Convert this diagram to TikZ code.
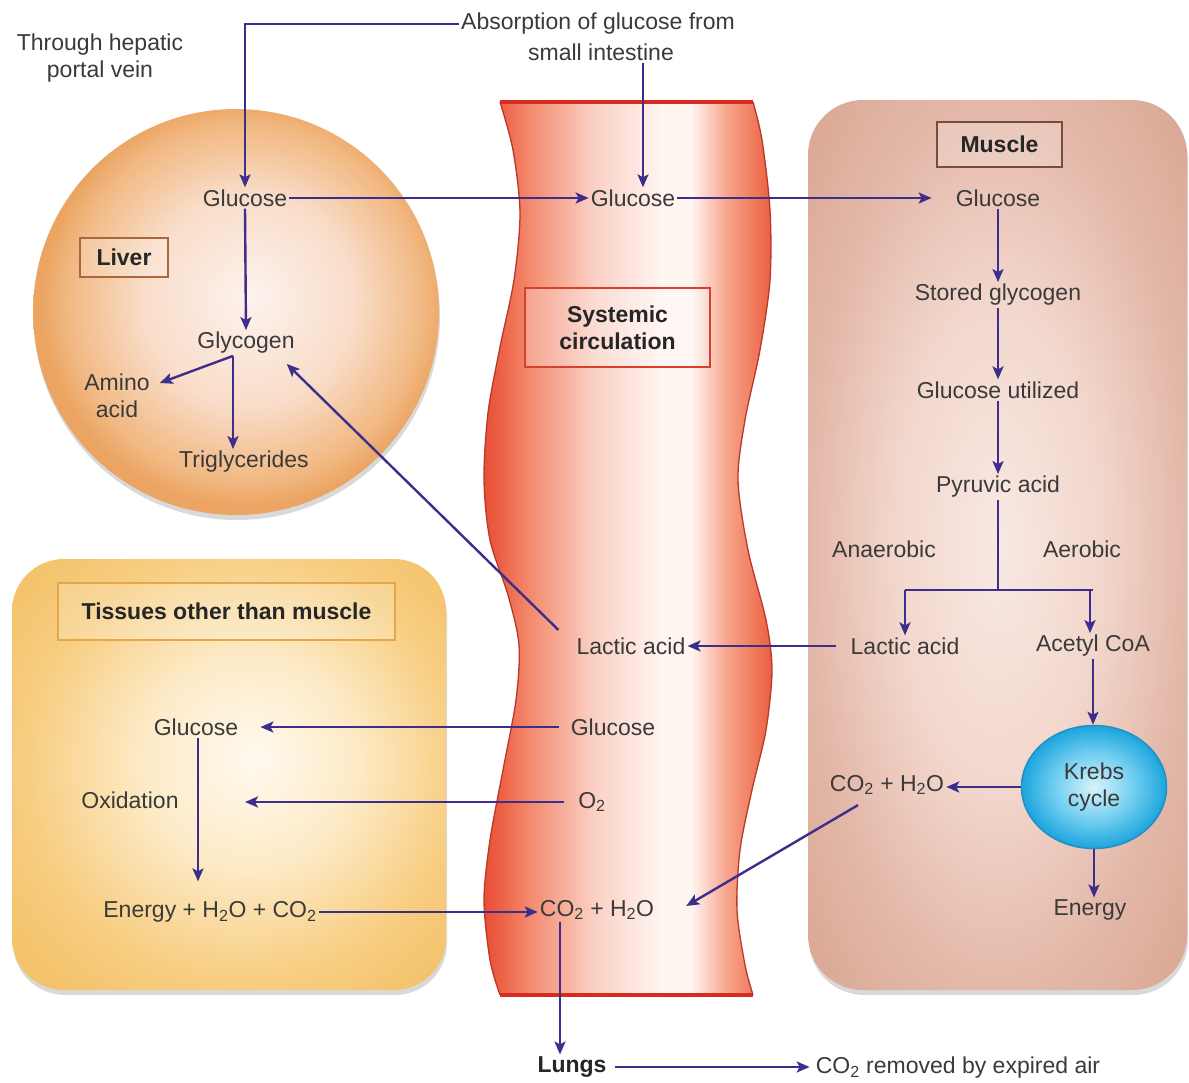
\documentclass[tikz,border=0pt]{standalone}
\usepackage{fontspec}
\setmainfont{Liberation Sans}
\usetikzlibrary{arrows.meta,shadows,shapes.geometric,calc}
\definecolor{arr}{RGB}{62,46,140}
\definecolor{txt}{RGB}{58,58,58}
\definecolor{lv0}{HTML}{FDF2EE}
\definecolor{lv1}{HTML}{F9DDC9}
\definecolor{lv2}{HTML}{F1B881}
\definecolor{lv3}{HTML}{EBA462}
\definecolor{ms0}{HTML}{F8E9E3}
\definecolor{ms1}{HTML}{F2D6CB}
\definecolor{ms2}{HTML}{E3B8A8}
\definecolor{ms3}{HTML}{D9A793}
\definecolor{ts0}{HTML}{FFF9EF}
\definecolor{ts1}{HTML}{FDEBC8}
\definecolor{ts2}{HTML}{F7CD80}
\definecolor{ts3}{HTML}{F3C066}
\definecolor{kb0}{HTML}{D8F3FC}
\definecolor{kb1}{HTML}{70CDF0}
\definecolor{kb2}{HTML}{1BA5DD}
\definecolor{kbd}{HTML}{2290C6}
\definecolor{vs0}{HTML}{E84E36}
\definecolor{vs1}{HTML}{ED6246}
\definecolor{vs2}{HTML}{F38A6E}
\definecolor{vs3}{HTML}{FAD0C4}
\definecolor{vs4}{HTML}{FFF5F1}
\definecolor{vs5}{HTML}{F7A68E}
\definecolor{vs6}{HTML}{EE7050}
\definecolor{vs7}{HTML}{EA5E42}
\definecolor{vedge}{HTML}{B8392A}
\definecolor{vtop}{HTML}{D82A1E}
\definecolor{liverbox}{HTML}{A8683C}
\definecolor{musclebox}{HTML}{7B4B3A}
\definecolor{sysbox}{HTML}{D8402C}
\definecolor{tisbox}{HTML}{E4A84A}
\pgfdeclareradialshading{liversh}{\pgfpoint{2bp}{2bp}}{color(0bp)=(lv0); color(13bp)=(lv1); color(22bp)=(lv2); color(25bp)=(lv3); color(50bp)=(lv3)}
\pgfdeclareradialshading{musclesh}{\pgfpoint{0bp}{0bp}}{color(0bp)=(ms0); color(14bp)=(ms1); color(25bp)=(ms2); color(35bp)=(ms3); color(50bp)=(ms3)}
\pgfdeclareradialshading{tissh}{\pgfpoint{3bp}{2bp}}{color(0bp)=(ts0); color(12bp)=(ts1); color(25bp)=(ts2); color(35bp)=(ts3); color(50bp)=(ts3)}
\pgfdeclareradialshading{krebsh}{\pgfpoint{0bp}{0bp}}{color(0bp)=(kb0); color(14bp)=(kb1); color(25bp)=(kb2); color(50bp)=(kb2)}
\pgfdeclarehorizontalshading{vesselsh}{100bp}{color(0bp)=(vs0); color(25bp)=(vs0); color(28bp)=(vs1); color(33bp)=(vs2); color(44bp)=(vs3); color(56bp)=(vs4); color(61bp)=(vs4); color(67bp)=(vs5); color(73bp)=(vs6); color(75bp)=(vs7); color(100bp)=(vs7)}
\begin{document}
\begin{tikzpicture}[x=1pt,y=-1pt,
  lbl/.style={font=\fontsize{23}{27}\selectfont, text=txt, inner sep=2pt, align=center},
  blbl/.style={font=\bfseries\fontsize{23}{27}\selectfont, text=black!85, inner sep=0pt, align=center},
  arrow/.style={draw=arr, line width=2.4pt, -{Stealth[length=13pt,width=11pt,inset=3pt]}},
  plain/.style={draw=arr, line width=2.4pt},
  softshadow/.style={drop shadow={shadow xshift=1pt, shadow yshift=-5pt, opacity=0.15, fill=black}}]
\useasboundingbox (0,0) rectangle (1189,1082);
\fill[white] (0,0) rectangle (1189,1082);

% tissues box
\shade[shading=tissh, rounded corners=52pt, softshadow] (12,559) rectangle (446,990);
% muscle box
\shade[shading=musclesh, rounded corners=55pt, softshadow] (808,100) rectangle (1187,990);
% liver
\shade[shading=liversh, softshadow] (236,312) circle[radius=203pt];

% blood vessel
\shade[shading=vesselsh]
  plot[smooth] coordinates {(500,102) (513,150) (520,213) (514,280) (500,347) (488,413) (484,480) (490,540) (508,595) (519,645) (516,700) (503,770) (490,840) (484,900) (490,960) (500,995)}
  -- plot[smooth] coordinates {(753,995) (745,965) (737,910) (740,850) (752,790) (766,730) (772,670) (766,620) (748,550) (738,480) (745,420) (760,350) (770,280) (770,210) (762,140) (753,102)}
  -- cycle;
\draw[vedge, line width=1.3pt] plot[smooth] coordinates {(500,102) (513,150) (520,213) (514,280) (500,347) (488,413) (484,480) (490,540) (508,595) (519,645) (516,700) (503,770) (490,840) (484,900) (490,960) (500,995)};
\draw[vedge, line width=1.3pt] plot[smooth] coordinates {(753,995) (745,965) (737,910) (740,850) (752,790) (766,730) (772,670) (766,620) (748,550) (738,480) (745,420) (760,350) (770,280) (770,210) (762,140) (753,102)};
\draw[vtop, line width=4pt] (500,102) -- (753,102);
\draw[vtop, line width=4pt] (500,995) -- (753,995);

% label boxes
\node[blbl, draw=liverbox, line width=2.5pt, fill=white, fill opacity=0.2, text opacity=1, minimum width=88pt, minimum height=39pt] (liverlbl) at (124,257.5) {Liver};
\node[blbl, draw=musclebox, line width=2.5pt, fill=white, fill opacity=0.2, text opacity=1, minimum width=125pt, minimum height=45pt] (musclelbl) at (999.5,144.5) {Muscle};
\node[blbl, draw=sysbox, line width=2.5pt, fill=white, fill opacity=0.25, text opacity=1, minimum width=185pt, minimum height=79pt] (syslbl) at (617.5,327.5) {Systemic\\circulation};
\node[blbl, draw=tisbox, line width=2pt, fill=white, fill opacity=0.2, text opacity=1, minimum width=337pt, minimum height=57pt] (tislbl) at (226.5,611.5) {Tissues other than muscle};

% text nodes
\node[lbl] (hep) at (100,58) {Through hepatic\\portal vein};
\node[lbl] (abs1) at (598,24) {Absorption of glucose from};
\node[lbl] (abs2) at (601,52) {small intestine};
\node[lbl] (lglu) at (245,198) {Glucose};
\node[lbl] (vglu) at (633,198) {Glucose};
\node[lbl] (mglu) at (998,198) {Glucose};
\node[lbl] (glyc) at (246,343) {Glycogen};
\node[lbl] (amino) at (117,396) {Amino\\acid};
\node[lbl] (trig) at (244,462) {Triglycerides};
\node[lbl] (sglyc) at (998,295) {Stored glycogen};
\node[lbl] (gutil) at (998,390) {Glucose utilized};
\node[lbl] (pyr) at (998,487) {Pyruvic acid};
\node[lbl] (anaer) at (884,549) {Anaerobic};
\node[lbl] (aer) at (1082,549) {Aerobic};
\node[lbl] (mlac) at (905,646) {Lactic acid};
\node[lbl] (acoa) at (1093,646) {Acetyl CoA};
\node[lbl] (vlac) at (631,646) {Lactic acid};
\node[lbl, ellipse, shade, shading=krebsh, draw=kbd, line width=1.5pt, minimum width=145pt, minimum height=123pt, inner sep=0pt] (krebs) at (1094,787) {Krebs\\cycle};
\node[lbl] (mco2) at (887,785) {CO\textsubscript{2} + H\textsubscript{2}O};
\node[lbl] (menergy) at (1090,910) {Energy};
\node[lbl] (vglu2) at (613,727) {Glucose};
\node[lbl] (o2) at (592,802) {O\textsubscript{2}};
\node[lbl] (vco2) at (597,910) {CO\textsubscript{2} + H\textsubscript{2}O};
\node[lbl] (tglu) at (196,727) {Glucose};
\node[lbl] (oxid) at (130,800) {Oxidation};
\node[lbl] (tenergy) at (210,912) {Energy + H\textsubscript{2}O + CO\textsubscript{2}};
\node[blbl, inner sep=2pt] (lungs) at (572,1067) {Lungs};
\node[lbl] (expired) at (958,1068) {CO\textsubscript{2} removed by expired air};

\coordinate (oxin) at (245,800);
\coordinate (gsplit) at ([xshift=-13pt]glyc.south);
\coordinate (br) at ([yshift=-90pt]pyr.south);
\coordinate (cdown) at ([xshift=-37pt]vco2.south);

% connectors
\draw[arrow] (abs1.west) -| (lglu.north);
\draw[arrow] ([xshift=10pt]vglu.north |- abs2.south) -- ([xshift=10pt]vglu.north);
\draw[arrow] (lglu.east) -- (vglu.west);
\draw[arrow, shorten >=22pt] (vglu.east) -- (mglu.west);
\draw[arrow] (lglu.south) -- (glyc.north);
\draw[arrow] (gsplit) -- ([xshift=8pt,yshift=13pt]amino.east);
\draw[arrow] (gsplit) -- (gsplit |- trig.north);
\draw[arrow] (mglu.south) -- (sglyc.north);
\draw[arrow] (sglyc.south) -- (gutil.north);
\draw[arrow] (gutil.south) -- (pyr.north);
\draw[plain] (pyr.south) -- (br);
\draw[plain] (mlac.north |- br) -- (acoa.north |- br);
\draw[arrow] (mlac.north |- br) -- (mlac.north);
\draw[arrow] ([xshift=-3pt]acoa.north |- br) -- ([xshift=-3pt]acoa.north);
\draw[arrow] ([xshift=-12pt]mlac.west) -- (vlac.east);
\draw[arrow] ([xshift=-16pt,yshift=16pt]vlac.west) -- ([xshift=-10pt,yshift=-8pt]glyc.south east);
\draw[arrow] (acoa.south) -- (acoa.south |- krebs.north);
\draw[arrow] (krebs.west) -- (krebs.west -| mco2.east);
\draw[arrow] (krebs.south) -- (krebs.south |- menergy.north);
\draw[arrow] ([xshift=-29pt,yshift=-8pt]mco2.south) -- ([xshift=30pt,yshift=4pt]vco2.east);
\draw[arrow, shorten >=20pt] ([xshift=-10pt]vglu2.west) -- (vglu2.west -| tglu.east);
\draw[arrow] ([xshift=-12pt]o2.west) -- (o2.west -| oxin);
\draw[arrow, shorten >=18pt] ([xshift=2pt]tglu.south) -- ([xshift=2pt]tglu.south |- tenergy.north);
\draw[arrow] (tenergy.east) -- (tenergy.east -| vco2.west);
\draw[arrow] (cdown) -- (cdown |- lungs.north);
\draw[arrow, shorten >=10pt] ([xshift=6pt]lungs.east) -- ([xshift=6pt]lungs.east -| expired.west);
\end{tikzpicture}
\end{document}
